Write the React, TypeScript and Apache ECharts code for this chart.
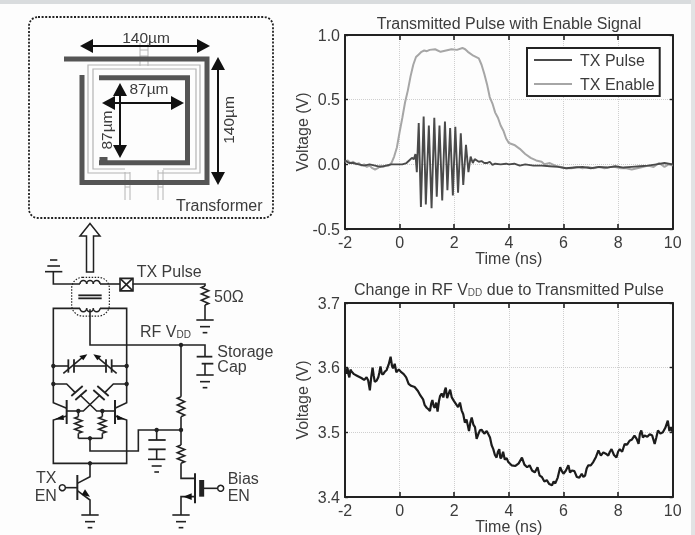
import React, { useEffect, useRef } from "react";
import * as echarts from "echarts";

const xTicks = [-2, 0, 2, 4, 6, 8, 10];
const topTitle = "Transmitted Pulse with Enable Signal";
const bottomTitle = "Change in RF V{sub|DD} due to Transmitted Pulse";

const txEnable: number[][] = [
  [-2, 0.02], [-1.9, 0.03], [-1.8, 0.01], [-1.7, 0.02], [-1.6, 0], [-1.5, 0.01], [-1.4, -0.01], [-1.3, 0], [-1.2, -0.02], [-1.1, -0.01],
  [-1, -0.03], [-0.9, -0.04], [-0.8, -0.03], [-0.7, -0.01], [-0.6, -0.02], [-0.5, -0.01], [-0.4, -0.01], [-0.3, 0.01], [-0.2, 0.06], [-0.1, 0.13],
  [0, 0.25], [0.1, 0.36], [0.2, 0.48], [0.3, 0.57], [0.4, 0.68], [0.5, 0.77], [0.6, 0.83], [0.7, 0.85], [0.8, 0.87], [0.9, 0.88],
  [1, 0.875], [1.1, 0.885], [1.3, 0.89], [1.5, 0.87], [1.7, 0.88], [1.9, 0.89], [2.1, 0.885], [2.3, 0.9], [2.4, 0.89], [2.5, 0.87],
  [2.7, 0.84], [2.9, 0.82], [3, 0.77], [3.1, 0.7], [3.2, 0.62], [3.3, 0.52], [3.4, 0.47], [3.5, 0.4], [3.6, 0.36], [3.7, 0.3],
  [3.8, 0.26], [3.9, 0.2], [4, 0.165], [4.2, 0.15], [4.4, 0.12], [4.6, 0.08], [4.8, 0.05], [5, 0.03], [5.2, 0.02], [5.3, 0.0],
  [5.5, 0.01], [5.7, -0.01], [5.9, -0.02], [6.1, -0.03], [6.3, -0.03], [6.5, -0.02], [6.7, -0.03], [6.9, -0.02], [7.1, -0.03], [7.3, -0.02],
  [7.5, -0.03], [7.7, -0.02], [7.9, -0.02], [8.1, -0.03], [8.3, -0.03], [8.5, -0.04], [8.7, -0.03], [8.9, -0.02], [9.1, -0.01], [9.3, -0.02],
  [9.5, 0.01], [9.7, -0.02], [9.85, 0], [10, -0.01],
];

const txPulse: number[][] = [
  [-2, 0.03], [-1.85, 0.01], [-1.7, 0.01], [-1.5, 0], [-1.3, -0.01], [-1.1, 0], [-0.9, -0.01], [-0.7, -0.02], [-0.5, -0.01], [-0.3, 0],
  [-0.1, 0], [0.1, 0], [0.25, 0.01], [0.35, 0.03], [0.45, 0.05], [0.52, 0.04], [0.58, 0.08], [0.63, -0.06],
  [0.7, 0.32], [0.78, -0.33], [0.88, 0.37], [0.96, -0.31], [1.07, 0.3], [1.17, -0.34], [1.27, 0.36], [1.36, -0.25],
  [1.46, 0.3], [1.56, -0.28], [1.66, 0.33], [1.75, -0.2], [1.85, 0.28], [1.95, -0.24], [2.04, 0.29], [2.14, -0.22],
  [2.24, 0.24], [2.33, -0.16], [2.43, 0.15], [2.52, -0.06], [2.6, 0.06], [2.68, 0.01],
  [2.75, 0.04], [2.9, 0.02], [3, 0.025], [3.1, 0.01], [3.2, 0.01], [3.3, 0.02], [3.4, -0.005], [3.5, 0.005], [3.7, 0], [3.9, 0.005],
  [4, 0], [4.2, 0.005], [4.4, -0.01], [4.6, 0], [4.9, -0.01], [5.2, -0.01], [5.5, -0.015], [5.8, -0.02], [6.1, -0.03], [6.4, -0.025],
  [6.7, -0.02], [7, -0.03], [7.3, -0.02], [7.6, -0.025], [7.9, -0.015], [8.2, -0.025], [8.5, -0.02], [8.8, -0.015], [9.1, -0.01], [9.4, 0], [9.7, 0.01], [10, 0],
];

const rfVdd: number[][] = [
  [-2, 3.596], [-1.95, 3.591], [-1.91, 3.6], [-1.87, 3.589], [-1.84, 3.585], [-1.8, 3.597], [-1.76, 3.594], [-1.67, 3.59], [-1.58, 3.588], [-1.49, 3.586], [-1.4, 3.584], [-1.3, 3.581], [-1.21, 3.585], [-1.15, 3.58],
  [-1.09, 3.565], [-1.04, 3.585], [-0.99, 3.6], [-0.95, 3.588], [-0.91, 3.578], [-0.84, 3.58], [-0.78, 3.585], [-0.74, 3.593], [-0.7, 3.602], [-0.65, 3.59], [-0.6, 3.59], [-0.54, 3.594], [-0.48, 3.596], [-0.4, 3.605],
  [-0.33, 3.617], [-0.28, 3.603], [-0.24, 3.599], [-0.18, 3.606], [-0.12, 3.593], [-0.03, 3.597], [0.06, 3.593], [0.15, 3.59], [0.24, 3.585], [0.33, 3.575], [0.42, 3.572], [0.55, 3.57],
  [0.67, 3.564], [0.76, 3.557], [0.86, 3.551], [0.92, 3.542], [0.99, 3.538], [1.05, 3.536], [1.11, 3.533], [1.16, 3.545], [1.2, 3.55], [1.25, 3.54], [1.29, 3.538], [1.34, 3.546], [1.39, 3.532], [1.44, 3.548], [1.48, 3.556], [1.54, 3.56], [1.6, 3.554], [1.65, 3.564], [1.69, 3.569], [1.74, 3.553],
  [1.79, 3.559], [1.85, 3.566], [1.91, 3.554], [1.98, 3.549], [2.06, 3.544], [2.14, 3.539], [2.21, 3.546], [2.27, 3.534], [2.33, 3.528], [2.39, 3.515], [2.45, 3.52], [2.5, 3.51], [2.54, 3.502], [2.59, 3.515], [2.64, 3.523], [2.7, 3.512], [2.76, 3.508], [2.82, 3.49], [2.88, 3.497],
  [2.94, 3.503], [3, 3.504], [3.1, 3.498], [3.19, 3.502], [3.25, 3.497], [3.31, 3.492], [3.37, 3.48], [3.43, 3.474], [3.49, 3.465], [3.55, 3.461], [3.6, 3.47], [3.65, 3.474], [3.69, 3.46], [3.73, 3.461], [3.79, 3.47], [3.85, 3.458], [3.92, 3.46], [3.98, 3.454], [4.1, 3.449], [4.24, 3.448], [4.36, 3.452],
  [4.48, 3.461], [4.57, 3.45], [4.67, 3.446], [4.76, 3.449], [4.85, 3.441], [4.95, 3.438], [5.05, 3.446], [5.13, 3.433], [5.21, 3.431], [5.3, 3.424], [5.39, 3.426], [5.48, 3.42], [5.58, 3.418], [5.64, 3.424], [5.7, 3.421], [5.79, 3.43], [5.88, 3.446], [5.94, 3.44], [6, 3.436],
  [6.09, 3.441], [6.18, 3.449], [6.24, 3.438], [6.31, 3.441], [6.4, 3.44], [6.49, 3.431], [6.58, 3.43], [6.67, 3.436], [6.73, 3.431], [6.79, 3.433], [6.85, 3.444], [6.91, 3.449], [7, 3.449], [7.09, 3.454], [7.19, 3.462], [7.28, 3.472], [7.37, 3.464], [7.46, 3.469], [7.55, 3.467], [7.64, 3.464],
  [7.7, 3.47], [7.76, 3.474], [7.85, 3.465], [7.94, 3.461], [8, 3.47], [8.06, 3.474], [8.15, 3.47], [8.24, 3.482], [8.33, 3.481], [8.42, 3.487], [8.51, 3.489], [8.6, 3.495], [8.68, 3.49], [8.75, 3.482], [8.8, 3.498], [8.85, 3.503], [8.91, 3.492], [8.97, 3.495], [9.07, 3.493], [9.16, 3.497],
  [9.25, 3.495], [9.34, 3.482], [9.4, 3.492], [9.46, 3.503], [9.55, 3.498], [9.64, 3.5], [9.73, 3.507], [9.82, 3.518], [9.88, 3.502], [9.94, 3.508], [10, 3.5],
];

const ink = "#222";
const textInk = "#3c3c3c";
const sans = "'Liberation Sans', Arial, sans-serif";

const line = (x1: number, y1: number, x2: number, y2: number, w = 1.6, c = ink) => ({
  type: "line", silent: true, shape: { x1, y1, x2, y2 }, style: { stroke: c, lineWidth: w },
});
const poly = (pts: number[][], w = 1.6, c = ink) => ({
  type: "polyline", silent: true, shape: { points: pts }, style: { stroke: c, lineWidth: w, fill: "none" },
});
const tri = (pts: number[][], fill = "#111") => ({
  type: "polygon", silent: true, shape: { points: pts }, style: { fill, stroke: "none" },
});
const txt = (x: number, y: number, text: string, size = 16, extra: any = {}, rest: any = {}) => ({
  type: "text", silent: true, x, y, ...rest,
  style: { text, fill: textInk, fontSize: size, fontFamily: sans, textVerticalAlign: "middle", textAlign: "left", verticalAlign: "middle", align: "left", ...extra },
});
const dot = (x: number, y: number) => ({ type: "circle", silent: true, shape: { cx: x, cy: y, r: 2.2 }, style: { fill: ink } });
const hollow = (x: number, y: number) => ({ type: "circle", silent: true, shape: { cx: x, cy: y, r: 3 }, style: { fill: "#fff", stroke: ink, lineWidth: 1.5 } });

// schematic helper: coordinates in a 3x space offset from (0,220)
const X = (v: number) => v / 3;
const Y = (v: number) => v / 3 + 220;
const sLine = (a: number, b: number, c: number, d: number, w = 1.6) => line(X(a), Y(b), X(c), Y(d), w);
const sPoly = (pts: number[][], w = 1.6) => poly(pts.map(([a, b]) => [X(a), Y(b)]), w);
const sDot = (a: number, b: number) => dot(X(a), Y(b));
const ground = (cx: number, y: number) => [
  sLine(cx - 26, y, cx + 26, y), sLine(cx - 15, y + 20, cx + 15, y + 20), sLine(cx - 7, y + 38, cx + 7, y + 38),
];
const resistor = (cx: number, y0: number, y1: number) => {
  const pts: number[][] = [[cx, y0]];
  const n = 6;
  for (let i = 0; i < n; i++) pts.push([cx + (i % 2 ? 11 : -11), y0 + ((i + 0.5) * (y1 - y0)) / n]);
  pts.push([cx, y1]);
  return sPoly(pts);
};
const coil = (cx0: number, y: number, up: boolean) => [0, 1, 2].map((i) => ({
  type: "arc", silent: true,
  shape: { cx: X(cx0 + i * 20), cy: Y(y), r: 3.4, startAngle: up ? Math.PI : 0, endAngle: up ? Math.PI * 2 : Math.PI, clockwise: true },
  style: { stroke: ink, lineWidth: 1.5, fill: "none" },
}));
const sTri = (pts: number[][]) => tri(pts.map(([a, b]) => [X(a), Y(b)]));

const schematic: any[] = [
  // output arrow
  { type: "polygon", silent: true, shape: { points: [[90, 223.5], [100, 236], [93.5, 236], [93.5, 272], [86.5, 272], [86.5, 236], [80, 236]] }, style: { fill: "#fff", stroke: ink, lineWidth: 1.5 } },
  // ground + primary
  sLine(150, 120, 172, 120), sLine(142, 138, 180, 138), sLine(135, 155, 187, 155),
  sPoly([[160, 155], [160, 192], [240, 192]]),
  ...coil(250, 192, true),
  sLine(300, 192, 360, 192),
  { type: "rect", silent: true, shape: { x: X(360), y: Y(175), width: 13, height: 12.5 }, style: { fill: "#fff", stroke: ink, lineWidth: 1.6 } },
  sLine(360, 175, 398, 212), sLine(360, 212, 398, 175),
  sPoly([[398, 192], [615, 192], [615, 198]]),
  resistor(615, 198, 255),
  sLine(615, 255, 615, 300),
  ...ground(615, 300),
  // core
  sLine(235, 226, 305, 226, 1.8), sLine(235, 235, 305, 235, 1.8),
  { type: "rect", silent: true, shape: { x: X(215), y: Y(172), width: 37.7, height: 38.7, r: 11 }, style: { fill: "none", stroke: ink, lineWidth: 1.2, lineDash: [1.5, 1.5] } },
  // secondary
  ...coil(250, 265, false),
  sPoly([[240, 265], [160, 265], [160, 548], [200, 565]]),
  sPoly([[300, 265], [380, 265], [380, 548], [345, 565]]),
  sPoly([[270, 268], [270, 375], [615, 375], [615, 410]]),
  // storage cap
  sLine(590, 410, 637, 410, 1.8), sLine(605, 431, 640, 431, 1.8), sLine(615, 431, 615, 465),
  ...ground(615, 465),
  // varactors
  sLine(160, 438, 205, 438), sLine(222, 438, 318, 438), sLine(335, 438, 380, 438),
  sLine(205, 418, 205, 458, 1.8), sLine(222, 418, 222, 458, 1.8), sLine(318, 418, 318, 458, 1.8), sLine(335, 418, 335, 458, 1.8),
  sLine(190, 460, 250, 410), sLine(350, 460, 290, 410),
  sTri([[262, 403], [250, 421], [238, 408]]), sTri([[280, 403], [292, 421], [304, 408]]),
  sDot(160, 438), sDot(380, 438), sDot(160, 492), sDot(380, 492),
  // cross coupling
  sPoly([[160, 492], [200, 492], [225, 517]]), sPoly([[380, 492], [340, 492], [315, 517]]),
  sLine(214, 528, 248, 498, 1.8), sLine(226, 540, 260, 510, 1.8),
  sLine(326, 528, 292, 498, 1.8), sLine(314, 540, 280, 510, 1.8),
  sPoly([[240, 525], [290, 573], [307, 573]]), sPoly([[300, 525], [250, 573], [235, 573]]),
  // transistors
  sLine(200, 540, 200, 612, 2), sLine(345, 540, 345, 612, 2),
  sLine(200, 573, 235, 573), sLine(307, 573, 345, 573),
  sPoly([[200, 588], [160, 600], [160, 730], [380, 730], [380, 600], [345, 588]]),
  sTri([[165, 598], [190, 584], [192, 600]]), sTri([[375, 598], [350, 584], [352, 600]]),
  sDot(235, 573), sDot(307, 573),
  sLine(235, 573, 235, 590), resistor(235, 590, 640), sLine(235, 640, 235, 655),
  sLine(307, 573, 307, 590), resistor(307, 590, 640), sLine(307, 640, 307, 655),
  sLine(235, 655, 307, 655), sDot(270, 655),
  sPoly([[270, 655], [270, 693], [415, 693], [415, 630], [543, 630]]),
  sDot(470, 630), sDot(543, 630),
  sLine(470, 630, 470, 660), sLine(445, 660, 497, 660, 1.8), sLine(445, 688, 497, 688, 1.8), sLine(470, 688, 470, 718),
  ...ground(470, 718),
  // tail transistor
  sDot(270, 730),
  sPoly([[270, 730], [270, 770], [232, 790]]),
  sLine(232, 765, 232, 840, 2),
  sLine(196, 803, 232, 803),
  sPoly([[232, 812], [270, 840], [270, 885]]),
  sTri([[270, 830], [245, 825], [255, 808]]),
  hollow(X(187), Y(803)),
  ...ground(270, 885),
  // bias branch
  sDot(543, 375),
  sLine(543, 375, 543, 530), resistor(543, 530, 590), sLine(543, 590, 543, 675), resistor(543, 675, 730),
  sPoly([[543, 730], [543, 775], [585, 775]]),
  sLine(585, 760, 585, 850, 2),
  sLine(605, 780, 605, 830, 5),
  sLine(605, 805, 652, 805),
  hollow(X(662), Y(805)),
  sPoly([[585, 830], [543, 830], [543, 885]]),
  sTri([[550, 830], [575, 820], [575, 840]]),
  ...ground(543, 885),
  // labels
  txt(X(410), Y(155), "TX Pulse"), txt(X(642), Y(228), "50Ω"),
  txt(X(420), Y(335), "RF V{sub|DD}", 16, { rich: { sub: { fontSize: 10, fill: textInk, fontFamily: sans, padding: [6, 0, 0, 0] } } }),
  txt(X(652), Y(393), "Storage"), txt(X(652), Y(440), "Cap"),
  txt(X(108), Y(773), "TX"), txt(X(104), Y(825), "EN"),
  txt(X(683), Y(775), "Bias"), txt(X(683), Y(825), "EN"),
];

const dark = "#555";
const pale = "#b4b4b4";
const arrowH = (x1: number, x2: number, y: number) => [
  line(x1 + 10, y, x2 - 10, y, 2, "#111"),
  tri([[x1, y], [x1 + 13, y - 7], [x1 + 13, y + 7]]),
  tri([[x2, y], [x2 - 13, y - 7], [x2 - 13, y + 7]]),
];
const arrowV = (x: number, y1: number, y2: number) => [
  line(x, y1 + 10, x, y2 - 10, 2, "#111"),
  tri([[x, y1], [x - 7, y1 + 13], [x + 7, y1 + 13]]),
  tri([[x, y2], [x - 7, y2 - 13], [x + 7, y2 - 13]]),
];

const transformer: any[] = [
  { type: "rect", silent: true, shape: { x: 29, y: 17, width: 244, height: 201, r: 9 }, style: { fill: "none", stroke: "#222", lineWidth: 1.8, lineDash: [2, 1.6] } },
  // feeds
  line(140, 43, 140, 66, 1, pale), line(148, 43, 148, 66, 1, pale), line(140, 50, 148, 50, 1, pale), line(140, 56, 148, 56, 1, pale),
  line(125, 172, 125, 200, 1, pale), line(130, 172, 130, 200, 1, pale), line(125, 187, 130, 187, 1, pale),
  line(158, 170, 158, 200, 1, pale), line(163, 170, 163, 200, 1, pale), line(158, 187, 163, 187, 1, pale),
  // light windings
  poly([[130, 173], [88, 173], [88, 65], [200, 65], [200, 173], [158, 173]], 1.2, pale),
  poly([[125, 169], [93, 169], [93, 69], [196, 69], [196, 169], [163, 169]], 1.2, pale),
  // thick metal
  poly([[64, 59], [207, 59], [207, 182.5], [82, 182.5], [82, 75]], 5, dark),
  poly([[99, 77.7], [187.5, 77.7], [187.5, 162.7], [99, 162.7]], 5, dark),
  { type: "rect", silent: true, shape: { x: 99.5, y: 157, width: 8, height: 8 }, style: { fill: dark } },
  // dimension arrows
  ...arrowH(80, 210, 46), ...arrowV(218, 57, 185), ...arrowH(102, 184, 103), ...arrowV(120, 83, 158),
  txt(146, 37.5, "140µm", 15.5, { align: "center", textAlign: "center" }),
  txt(149, 88.5, "87µm", 15.5, { align: "center", textAlign: "center" }),
  txt(228, 120, "140µm", 15.5, { align: "center", textAlign: "center" }, { rotation: Math.PI / 2 }),
  txt(106, 130, "87µm", 15.5, { align: "center", textAlign: "center" }, { rotation: Math.PI / 2 }),
  txt(176, 205, "Transformer", 16),
];

const frame: any[] = [
  { type: "rect", silent: true, z: -1, shape: { x: 0, y: 0, width: 695, height: 4 }, style: { fill: "#d9dcde" } },
  { type: "rect", silent: true, z: -1, shape: { x: 691, y: 0, width: 4, height: 535 }, style: { fill: "#e2e3e4" } },
];

function xAxes(gridIndex: number) {
  const base = { type: "value", gridIndex, min: -2, max: 10, interval: 2 };
  return [
    {
      ...base, position: "bottom", name: "Time (ns)", nameLocation: "middle", nameGap: 21, nameMoveOverlap: false,
      nameTextStyle: { fontSize: 16, color: textInk, fontFamily: sans },
      axisLine: { show: true, onZero: false, lineStyle: { color: ink, width: 2 } },
      axisTick: { show: true, inside: true, length: 5, lineStyle: { color: ink, width: 1.6 } },
      axisLabel: { fontSize: 16, color: textInk, fontFamily: sans, margin: 5, formatter: (v: number) => (xTicks.includes(v) ? String(v) : "") },
      splitLine: { show: true, lineStyle: { color: "#cfcfcf", type: "dotted", width: 1 } },
    },
    {
      ...base, position: "top",
      axisLine: { show: true, onZero: false, lineStyle: { color: ink, width: 2 } },
      axisTick: { show: true, inside: true, length: 5, lineStyle: { color: ink, width: 1.6 } },
      axisLabel: { show: false }, splitLine: { show: false },
    },
  ];
}
function yAxes(gridIndex: number, min: number, max: number, interval: number) {
  const base = { type: "value", gridIndex, min, max, interval };
  return [
    {
      ...base, position: "left", name: "Voltage (V)", nameLocation: "middle", nameGap: 35, nameMoveOverlap: false,
      nameTextStyle: { fontSize: 16, color: textInk, fontFamily: sans },
      axisLine: { show: true, onZero: false, lineStyle: { color: ink, width: 2 } },
      axisTick: { show: true, inside: true, length: 3, lineStyle: { color: ink, width: 1.4 } },
      axisLabel: { fontSize: 16, color: textInk, fontFamily: sans, margin: 5, formatter: (v: number) => v.toFixed(1) },
      splitLine: { show: true, lineStyle: { color: "#cfcfcf", type: "dotted", width: 1 } },
    },
    {
      ...base, position: "right",
      axisLine: { show: true, onZero: false, lineStyle: { color: ink, width: 2 } },
      axisTick: { show: true, inside: true, length: 3, lineStyle: { color: ink, width: 1.4 } },
      axisLabel: { show: false }, splitLine: { show: false },
    },
  ];
}

export default function App() {
  const ref = useRef<HTMLDivElement>(null);
  useEffect(() => {
    const chart = echarts.init(ref.current!, undefined, { renderer: "svg" });
    chart.setOption({
      animation: false,
      backgroundColor: "#fdfdfd",
      title: [
        { text: topTitle, left: 509, top: 15, textAlign: "center", padding: 0, textStyle: { fontSize: 16, fontWeight: "normal", color: textInk, fontFamily: sans } },
        {
          text: bottomTitle, left: 509, top: 281, textAlign: "center", padding: 0,
          textStyle: { fontSize: 16, fontWeight: "normal", color: textInk, fontFamily: sans, rich: { sub: { fontSize: 10, color: "#555", fontFamily: sans, padding: [6, 0, 0, 0] } } },
        },
      ],
      grid: [
        { left: 345, top: 35, width: 327.7, height: 194 },
        { left: 345, top: 303, width: 327.7, height: 194 },
      ],
      xAxis: [...xAxes(0), ...xAxes(1)],
      yAxis: [...yAxes(0, -0.5, 1, 0.5), ...yAxes(1, 3.4, 3.7, 0.1)],
      legend: {
        left: 527, top: 48, orient: "vertical", padding: [4, 5, 4, 6], itemWidth: 38, itemHeight: 14, itemGap: 8,
        backgroundColor: "#fff", borderColor: ink, borderWidth: 2, borderRadius: 0,
        itemStyle: { opacity: 0 },
        textStyle: { fontSize: 16, color: textInk, fontFamily: sans, padding: [0, 0, 0, 3] },
        data: ["TX Pulse", "TX Enable"],
      },
      graphic: [...frame, ...transformer, ...schematic],
      series: [
        { name: "TX Enable", type: "line", data: txEnable, showSymbol: false, symbol: "none", xAxisIndex: 0, yAxisIndex: 0, lineStyle: { color: "#a6a6a6", width: 2 }, itemStyle: { color: "#a6a6a6" }, z: 2 },
        { name: "TX Pulse", type: "line", data: txPulse, showSymbol: false, symbol: "none", xAxisIndex: 0, yAxisIndex: 0, lineStyle: { color: "#4a4a4a", width: 1.9 }, itemStyle: { color: "#222" }, z: 3 },
        { name: "RF VDD", type: "line", data: rfVdd, showSymbol: false, symbol: "none", xAxisIndex: 2, yAxisIndex: 2, lineStyle: { color: "#1c1c1c", width: 2.2 }, itemStyle: { color: "#1c1c1c" }, z: 3 },
      ],
    });
    return () => chart.dispose();
  }, []);
  return <div ref={ref} style={{ position: "absolute", left: 0, top: 0, width: 695, height: 535, filter: "blur(0.4px)" }} />;
}
